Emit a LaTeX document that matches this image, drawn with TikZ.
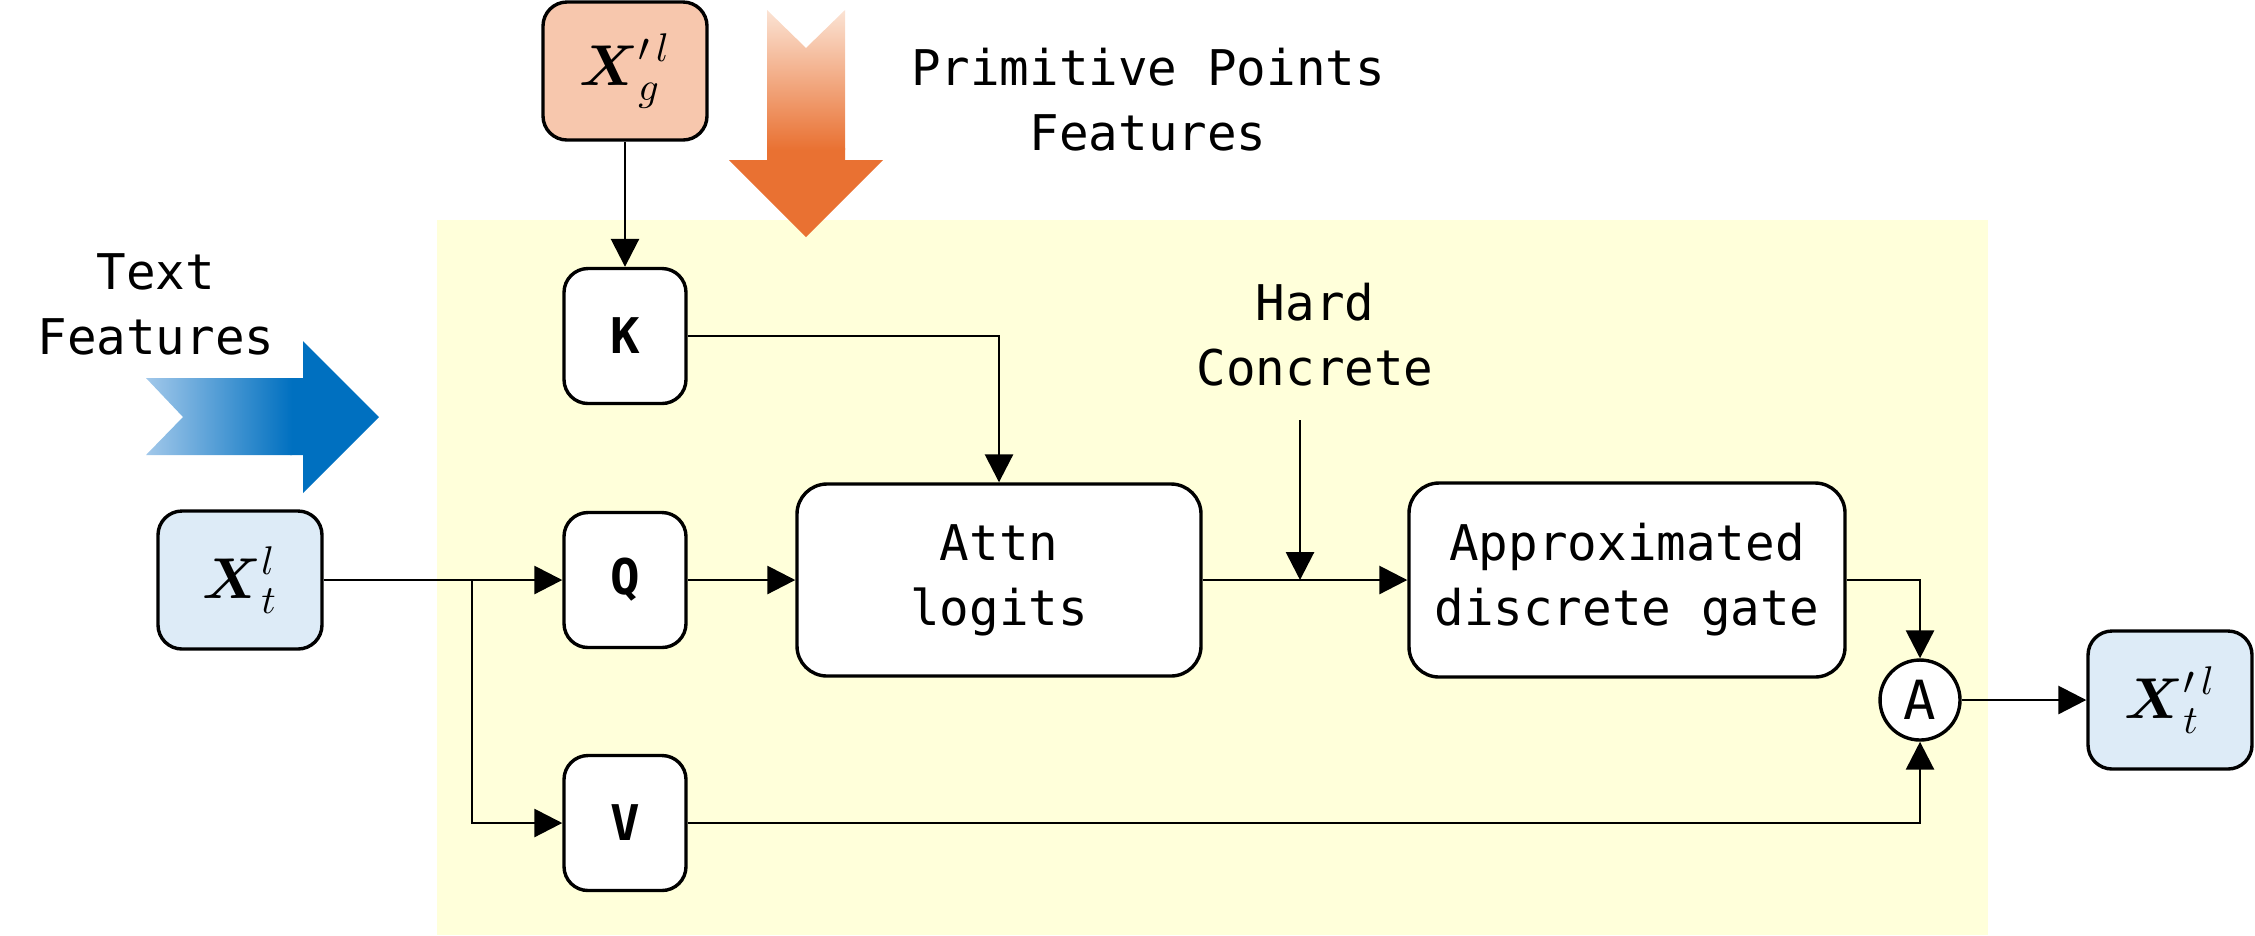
\documentclass[tikz,border=0pt]{standalone}
\usepackage{amsmath}
\usepackage{fontspec}
\usepackage{tikz}
\usetikzlibrary{arrows.meta}

\newfontfamily\monofont{DejaVu Sans Mono}
\definecolor{bgyellow}{HTML}{FFFFDA}
\definecolor{featorange}{HTML}{F7C7AD}
\definecolor{featblue}{HTML}{DDEBF7}
\definecolor{arrorange}{HTML}{E97132}
\definecolor{arrorangelight}{HTML}{FBE3D4}
\definecolor{arrblue}{HTML}{0070C0}
\definecolor{arrbluelight}{HTML}{A2C8EA}

\begin{document}
\begin{tikzpicture}[x=0.25pt, y=-0.25pt,
    txt/.style={font=\monofont\fontsize{12.3}{16.25}\selectfont, align=center},
    blk/.style={draw, line width=0.85pt, rounded corners=6pt, fill=white, minimum width=30.5pt, minimum height=33.75pt, inner sep=0pt, font=\monofont\bfseries\fontsize{12.3}{15}\selectfont},
    bigblk/.style={blk, rounded corners=7.5pt, minimum height=48pt, align=center, font=\monofont\fontsize{12.3}{16.25}\selectfont},
    feat/.style={draw, line width=0.85pt, rounded corners=6pt, minimum width=41pt, minimum height=34.5pt, inner sep=0pt, font=\fontsize{14}{16}\selectfont},
    arr/.style={line width=0.7pt, -{Triangle[length=7pt,width=7pt]}}]
      \useasboundingbox (0,0) rectangle (2255,935);
      \fill[bgyellow] (437,220) rectangle (1988,935);

      % big feature arrows
      \fill[arrblue] (290,378) -- (303,378) -- (303,341) -- (379,417) -- (303,493) -- (303,455) -- (290,455) -- cycle;
      \shade[left color=arrbluelight, right color=arrblue] (146,378) -- (292,378) -- (292,455) -- (146,455) -- (183,417) -- cycle;
      \fill[arrorange] (767,148) -- (845,148) -- (845,160) -- (883,160) -- (806,237) -- (729,160) -- (767,160) -- cycle;
      \shade[top color=arrorangelight, bottom color=arrorange] (767,10) -- (806,48) -- (845,10) -- (845,150) -- (767,150) -- cycle;

      \node[txt] (tf) at (156,304) {Text\\Features};
      \node[txt] (pf) at (1148,100) {Primitive Points\\Features};
      \node[txt] (hc) at (1315,335) {Hard\\Concrete};

      \node[feat, fill=featorange] (Xg) at (625,71) {$\boldsymbol{X}'^{\,l}_{g}$};
      \node[feat, fill=featblue] (Xt) at (240,580) {$\boldsymbol{X}^{l}_{t}$};
      \node[feat, fill=featblue] (Xo) at (2170,700) {$\boldsymbol{X}'^{\,l}_{t}$};

      \node[blk] (K) at (625,336) {K};
      \node[blk] (Q) at (625,580) {Q};
      \node[blk] (V) at (625,823) {V};
      \node[bigblk, minimum width=101pt] (attn) at (999,580) {Attn\\logits};
      \node[bigblk, minimum width=109pt, minimum height=48.5pt] (gate) at (1627,580) {Approximated\\discrete gate};
      \node[draw, circle, line width=0.85pt, fill=white, minimum size=20pt, inner sep=0pt, font=\monofont\fontsize{13.5}{15}\selectfont] (A) at (1920,700) {A};

      \coordinate (split) at (472,580);
      \coordinate (hctop) at (1300,420);
      \coordinate (hcend) at (1300,580);

      \draw[arr] (Xg) -- (K);
      \draw[arr] (K) -| (attn);
      \draw[arr] (Xt) -- (Q);
      \draw[arr] (split) |- (V);
      \draw[arr] (Q) -- (attn);
      \draw[arr] (attn) -- (gate);
      \draw[arr] (hctop) -- (hcend);
      \draw[arr] (gate) -| (A);
      \draw[arr] (V) -| (A);
      \draw[arr] (A) -- (Xo);
    \end{tikzpicture}
\end{document}
